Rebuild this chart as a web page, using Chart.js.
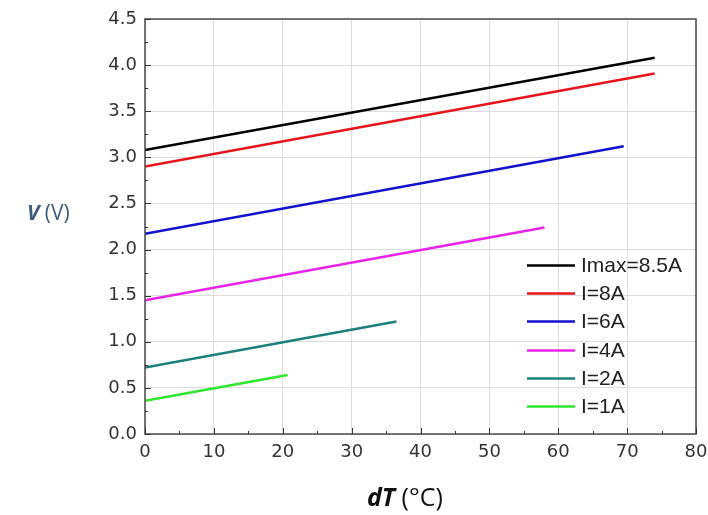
<!DOCTYPE html>
<html>
<head>
<meta charset="utf-8">
<script src="https://cdn.jsdelivr.net/npm/chart.js@4.4.1/dist/chart.umd.min.js"></script>
<style>
  html, body { margin: 0; padding: 0; background: #fff; }
  #wrap { position: relative; width: 708px; height: 515px; }
  #chart_voltage { position: absolute; left: 0; top: 0; }
  .axisTitle { position: absolute; font-family: "Open Sans", sans-serif; white-space: nowrap; }
  #yTitle { left: 27px; top: 198px; color: #3d5b7c; font-size: 21px; }
  #xTitle { left: 367px; top: 479px; color: #111; font-size: 25px; }
</style>
</head>
<body>
<div id="wrap">
  <canvas id="chart_voltage" width="708" height="515"></canvas>
  <div class="axisTitle" id="yTitle"><b><i>V</i></b> (V)</div>
  <div class="axisTitle" id="xTitle"><b><i>dT</i></b> (°C)</div>
</div>
<script>
// series labels and colours
const seriesNames = ["Imax=8.5A", "I=8A", "I=6A", "I=4A", "I=2A", "I=1A"];
const seriesColors = ["#000000", "#e8141c", "#1212cc", "#ea22ea", "#1b7f7c", "#2ee62e"];

// each curve is a straight line: [dT start, dT end] and [V start, V end]
const dtRange = [
  [0, 74],
  [0, 74],
  [0, 69.5],
  [0, 58],
  [0, 36.5],
  [0, 20.7]
];
const voltage = [
  [3.08, 4.08],
  [2.90, 3.91],
  [2.17, 3.12],
  [1.45, 2.24],
  [0.72, 1.22],
  [0.36, 0.64]
];

const xTicks = [0, 10, 20, 30, 40, 50, 60, 70, 80];
const yTicks = [0, 0.5, 1, 1.5, 2, 2.5, 3, 3.5, 4, 4.5];

const datasets = seriesNames.map(function (name, i) {
  return {
    label: name,
    data: dtRange[i].map(function (x, j) { return { x: x, y: voltage[i][j] }; }),
    borderColor: seriesColors[i],
    backgroundColor: seriesColors[i],
    borderWidth: 2.5,
    pointRadius: 0,
    fill: false,
  };
});

// frame, inward tick marks and the legend inside the plot
const framePlugin = {
  id: 'frame',
  afterDraw: function (chart) {
    const ctx = chart.ctx;
    const a = chart.chartArea;
    const xs = chart.scales.x;
    const ys = chart.scales.y;
    ctx.save();
    ctx.strokeStyle = '#4a4a4a';
    ctx.lineWidth = 1.5;
    ctx.strokeRect(a.left, a.top, a.right - a.left, a.bottom - a.top);

    ctx.lineWidth = 1;
    ctx.strokeStyle = '#333';
    for (let v = xs.min; v <= xs.max; v += 5) {
      const px = Math.round(xs.getPixelForValue(v)) + 0.5;
      const len = v % 10 === 0 ? 6 : 3;
      ctx.beginPath();
      ctx.moveTo(px, a.bottom);
      ctx.lineTo(px, a.bottom - len);
      ctx.stroke();
    }
    for (let k = 0; k <= 18; k++) {
      const v = k * 0.25;
      const py = Math.round(ys.getPixelForValue(v)) + 0.5;
      const len = k % 2 === 0 ? 6 : 3;
      ctx.beginPath();
      ctx.moveTo(a.left, py);
      ctx.lineTo(a.left + len, py);
      ctx.stroke();
    }

    // legend
    ctx.font = '21px "Liberation Sans", Arial, sans-serif';
    ctx.textBaseline = 'middle';
    ctx.textAlign = 'left';
    chart.data.datasets.forEach(function (ds, i) {
      const y = Math.round(a.top + 246 + i * 28.2) + 0.5;
      const x0 = a.right - 169;
      ctx.strokeStyle = ds.borderColor;
      ctx.lineWidth = 2.5;
      ctx.beginPath();
      ctx.moveTo(x0, y);
      ctx.lineTo(x0 + 48, y);
      ctx.stroke();
      ctx.fillStyle = '#222';
      ctx.fillText(ds.label, x0 + 54, y + 1);
    });
    ctx.restore();
  }
};

const chart_voltage = document.getElementById('chart_voltage');

new Chart(chart_voltage, {
  type: 'line',
  data: { datasets: datasets },
  plugins: [framePlugin],
  options: {
    responsive: false,
    animation: false,
    layout: { padding: { top: 19, right: 0, left: 0, bottom: 0 } },
    plugins: {
      legend: { display: false },
      tooltip: { enabled: false },
    },
    scales: {
      x: {
        type: 'linear',
        min: 0,
        max: 80,
        afterBuildTicks: function (s) { s.ticks = xTicks.map(function (v) { return { value: v }; }); },
        afterFit: function (s) { s.height = 81; s.paddingRight = 12; },
        grid: { color: '#dddddd', drawTicks: false },
        border: { display: false },
        ticks: {
          padding: 8,
          color: '#333',
          font: { family: '"DejaVu Sans", sans-serif', size: 18 },
        },
      },
      y: {
        type: 'linear',
        min: 0,
        max: 4.5,
        afterBuildTicks: function (s) { s.ticks = yTicks.map(function (v) { return { value: v }; }); },
        afterFit: function (s) { s.width = 145; },
        grid: { color: '#dddddd', drawTicks: false },
        border: { display: false },
        ticks: {
          padding: 8,
          color: '#333',
          font: { family: '"DejaVu Sans", sans-serif', size: 18 },
          callback: function (v) { return v.toFixed(1); },
        },
      },
    },
  },
});
</script>
</body>
</html>
